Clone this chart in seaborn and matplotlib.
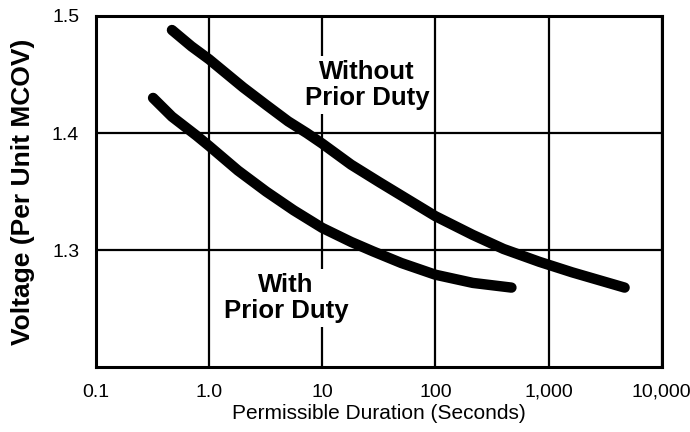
import matplotlib
matplotlib.use("Agg")
import matplotlib.pyplot as plt
import matplotlib.ticker as mticker
import seaborn as sns
import pandas as pd

# Curve readings (duration in seconds, voltage per unit MCOV)
without_t = [0.47, 0.7, 1.0, 2.0, 3.2, 5.0, 7.3, 10, 18, 32, 60, 100, 214, 400, 830, 1620, 4700]
without_v = [1.488, 1.474, 1.463, 1.439, 1.424, 1.410, 1.400, 1.391, 1.373, 1.358,
             1.342, 1.329, 1.313, 1.301, 1.290, 1.281, 1.268]

with_t = [0.32, 0.47, 0.77, 1.0, 1.8, 3.2, 5.6, 10, 18, 28, 50, 100, 214, 470]
with_v = [1.430, 1.414, 1.398, 1.389, 1.368, 1.350, 1.334, 1.319, 1.307, 1.299,
          1.289, 1.279, 1.272, 1.268]

x_ticks = [0.1, 1, 10, 100, 1000, 10000]
x_labels = ["0.1", "1.0", "10", "100", "1,000", "10,000"]
y_ticks = [1.3, 1.4, 1.5]
y_labels = ["1.3", "1.4", "1.5"]

df = pd.concat([
    pd.DataFrame({"t": without_t, "v": without_v, "curve": "Without Prior Duty"}),
    pd.DataFrame({"t": with_t, "v": with_v, "curve": "With Prior Duty"}),
])

sns.set_style("white")
plt.rcParams["font.family"] = ["Liberation Sans", "DejaVu Sans"]
plt.rcParams["text.color"] = "black"
plt.rcParams["axes.labelcolor"] = "black"
plt.rcParams["xtick.color"] = "black"
plt.rcParams["ytick.color"] = "black"

fig = plt.figure(figsize=(6.9, 4.32), dpi=100)
ax = fig.add_axes([0.139, 0.150, 0.820, 0.813])

sns.lineplot(data=df, x="t", y="v", units="curve", estimator=None,
             color="black", linewidth=7.5, ax=ax, legend=False,
             solid_capstyle="round", solid_joinstyle="round", sort=False)

ax.set_xscale("log")
ax.set_xlim(0.1, 10000)
ax.set_ylim(1.2, 1.5)
ax.xaxis.set_major_locator(mticker.FixedLocator(x_ticks))
ax.xaxis.set_minor_locator(mticker.NullLocator())
ax.set_xticks(x_ticks)
ax.set_xticklabels(x_labels, fontsize=14)
ax.set_yticks(y_ticks)
ax.set_yticklabels(y_labels, fontsize=14)
ax.tick_params(length=0, pad=12)

ax.set_axisbelow(True)
ax.grid(True, color="black", linewidth=1.6)
for s in ax.spines.values():
    s.set_linewidth(2.2)
    s.set_color("black")

ax.set_xlabel("Permissible Duration (Seconds)", fontsize=15, labelpad=2)
ax.set_ylabel("Voltage (Per Unit MCOV)", fontsize=19, fontweight="bold", labelpad=12)

box = dict(facecolor="white", edgecolor="none", pad=3)
ax.text(0.479, 0.803, "Without\nPrior Duty", transform=ax.transAxes,
        ha="center", va="center", fontsize=18.5, fontweight="bold",
        linespacing=1.12, bbox=box, zorder=5)
ax.text(0.336, 0.197, "With\nPrior Duty", transform=ax.transAxes,
        ha="center", va="center", fontsize=18.5, fontweight="bold",
        linespacing=1.12, bbox=box, zorder=5)

fig.savefig("out.png", dpi=100)
